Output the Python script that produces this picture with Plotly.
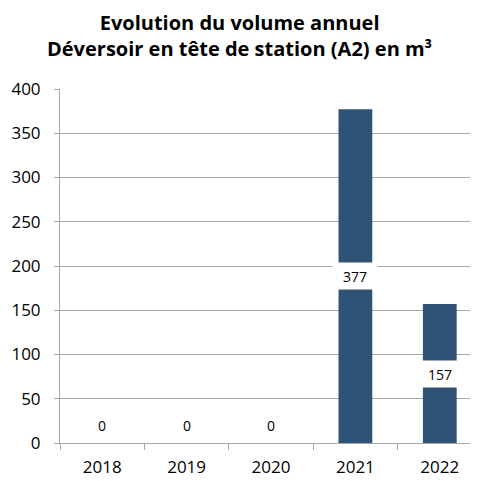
import plotly.graph_objects as go

years = ["2018", "2019", "2020", "2021", "2022"]
volumes = [0, 0, 0, 377, 157]
y_ticks = [0, 50, 100, 150, 200, 250, 300, 350, 400]

FONT = "Open Sans"
BAR = "#2E5376"
GRID = "#A6A6A6"

fig = go.Figure()
fig.add_trace(go.Bar(
    x=years, y=volumes, width=0.4,
    marker=dict(color=BAR, line=dict(width=0)),
    hoverinfo="skip",
))

for i, v in enumerate(volumes):
    fig.add_annotation(
        x=i, y=v / 2, xref="x", yref="y", text=str(v), showarrow=False,
        font=dict(family=FONT, size=14, color="#000000"),
        bgcolor="white" if v > 0 else "rgba(0,0,0,0)",
        width=38, height=20, borderpad=3,
        yshift=0 if v > 0 else 18,
    )

fig.add_annotation(
    xref="paper", yref="paper", x=0.4265, y=1, xanchor="center", yanchor="bottom",
    yshift=25, showarrow=False,
    text="<b>Evolution du volume annuel<br>Déversoir en tête de station (A2) en m³</b>",
    font=dict(family=FONT, size=20, color="#000000"),
)

fig.update_layout(
    width=478, height=473,
    margin=dict(l=52, r=4, t=81, b=38),
    paper_bgcolor="white", plot_bgcolor="white",
    showlegend=False,
    xaxis=dict(
        type="category", categoryorder="array", categoryarray=years,
        range=[-0.5, 4.5], showgrid=False,
        showline=True, linecolor=GRID, linewidth=1,
        ticks="outside", tickson="boundaries", ticklen=6, tickcolor=GRID,
        ticklabelstandoff=9,
        tickfont=dict(family=FONT, size=17, color="#000000"),
        fixedrange=True,
    ),
    yaxis=dict(
        range=[0, 400], tickvals=y_ticks,
        showgrid=True, gridcolor=GRID, gridwidth=1,
        showline=True, linecolor=GRID, linewidth=1,
        ticks="outside", ticklen=5, tickcolor=GRID,
        ticklabelstandoff=10,
        tickfont=dict(family=FONT, size=17, color="#000000"),
        zeroline=False, fixedrange=True,
    ),
)

fig.write_html("out.html")
